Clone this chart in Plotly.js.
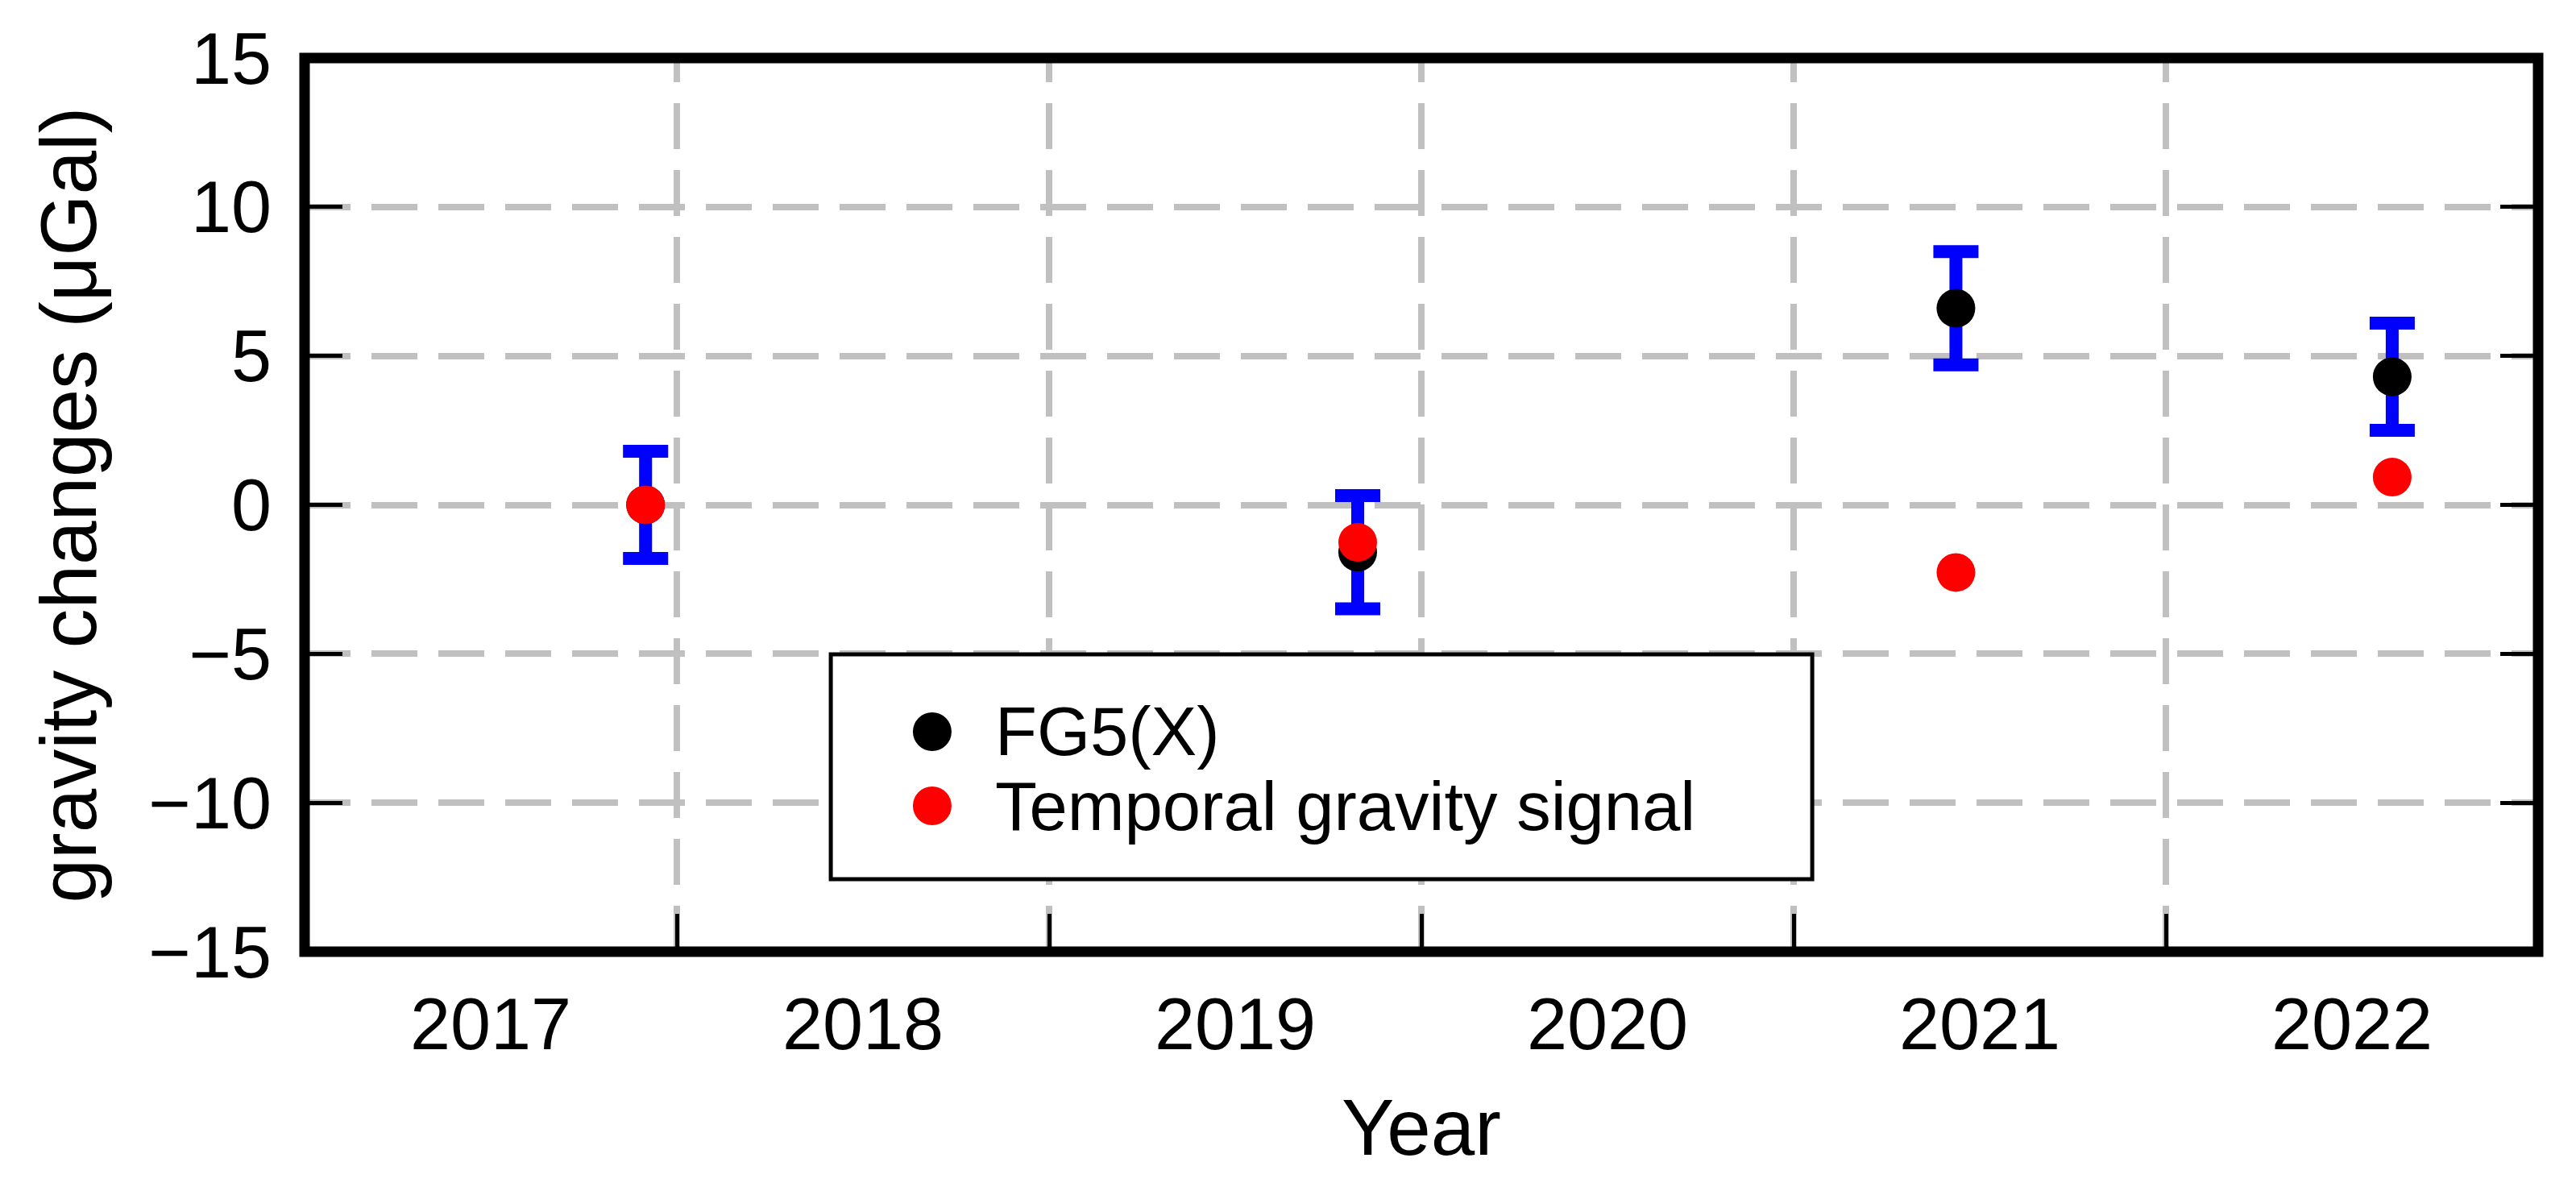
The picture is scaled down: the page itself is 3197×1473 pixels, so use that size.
<!DOCTYPE html>
<html>
<head>
<meta charset="utf-8">
<script src="https://cdn.plot.ly/plotly-3.0.1.min.js"></script>
<style>
  html, body { margin: 0; padding: 0; background: #fff; }
  #chart { width: 3197px; height: 1473px; }
  .xgrid { stroke-dashoffset: 27px; }
</style>
</head>
<body>
<div id="chart"></div>
<script>
// ---- data ----
const yearLabels = [2017, 2018, 2019, 2020, 2021, 2022];
const yearBoundaries = [2017.5, 2018.5, 2019.5, 2020.5, 2021.5];
const yTicks = [-15, -10, -5, 0, 5, 10, 15];

const epochX = [2017.416, 2019.329, 2020.936, 2022.108];
const fg5Values = [0.0, -1.59, 6.60, 4.30];
const fg5Errors = [1.8, 1.9, 1.9, 1.8];
const temporalValues = [0.0, -1.26, -2.27, 0.93];

const seriesNames = ['FG5(X)', 'Temporal gravity signal'];
const seriesColors = ['#000000', '#ff0000'];

const FONT = 'Liberation Sans, Arial, Helvetica, sans-serif';

const traces = [
  {
    type: 'scatter', mode: 'markers', name: seriesNames[0],
    x: epochX, y: fg5Values,
    marker: { color: seriesColors[0], size: 48, line: { width: 0 } },
    error_y: { type: 'data', array: fg5Errors, visible: true, color: '#0000ff', thickness: 16, width: 28 },
    showlegend: false
  },
  {
    type: 'scatter', mode: 'markers', name: seriesNames[1],
    x: epochX, y: temporalValues,
    marker: { color: seriesColors[1], size: 48, line: { width: 0 } },
    showlegend: false
  }
];

// custom legend (box, symbols, labels) in paper coordinates
const legendBox = { x0: 0.2356, x1: 0.675, y0: 0.0812, y1: 0.3327 };
const legendSymX = 0.2810;
const legendRowsY = [0.2462, 0.1632];
const legendTextX = 0.3085;

const shapes = [
  { type: 'rect', xref: 'paper', yref: 'paper', x0: legendBox.x0, x1: legendBox.x1, y0: legendBox.y0, y1: legendBox.y1,
    line: { color: '#000', width: 5 }, fillcolor: '#fff', layer: 'above' },
  { type: 'rect', xref: 'paper', yref: 'paper', x0: 0, x1: 1, y0: 0, y1: 1,
    line: { color: '#000', width: 13 }, fillcolor: 'rgba(0,0,0,0)', layer: 'above' }
];
const annotations = [];
seriesNames.forEach((nm, i) => {
  shapes.push({
    type: 'circle', xref: 'paper', yref: 'paper',
    xsizemode: 'pixel', ysizemode: 'pixel',
    xanchor: legendSymX, yanchor: legendRowsY[i],
    x0: -24, x1: 24, y0: -24, y1: 24,
    fillcolor: seriesColors[i], line: { width: 0 }, layer: 'above'
  });
  annotations.push({
    xref: 'paper', yref: 'paper', x: legendTextX, y: legendRowsY[i],
    xanchor: 'left', yanchor: 'middle', showarrow: false,
    text: nm, font: { family: FONT, size: 85, color: '#000' }
  });
});

const layout = {
  width: 3197, height: 1473,
  margin: { l: 378, r: 47, t: 72, b: 292 },
  paper_bgcolor: '#fff', plot_bgcolor: '#fff',
  showlegend: false,
  font: { family: FONT, color: '#000' },
  xaxis: {
    range: [2016.5, 2022.5],
    tickmode: 'array', tickvals: yearLabels, ticktext: yearLabels.map(String),
    ticks: '', showgrid: false, zeroline: false, showline: false,
    mirror: 'ticks',
    tickfont: { family: FONT, size: 90, color: '#000' },
    ticklabelstandoff: 30,
    minor: {
      tickmode: 'array', tickvals: yearBoundaries,
      ticks: 'inside', ticklen: 47, tickwidth: 5, tickcolor: '#000',
      showgrid: true, gridcolor: '#c0c0c0', gridwidth: 8, griddash: '57px,26px'
    },
    title: { text: 'Year', font: { family: FONT, size: 98, color: '#000' }, standoff: 44 },
    automargin: false
  },
  yaxis: {
    range: [-15, 15],
    tickmode: 'array', tickvals: yTicks,
    ticks: 'inside', ticklen: 47, tickwidth: 5, tickcolor: '#000',
    mirror: 'ticks',
    showgrid: true, gridcolor: '#c0c0c0', gridwidth: 8, griddash: '57px,26px',
    zeroline: false, showline: false,
    tickfont: { family: FONT, size: 90, color: '#000' },
    ticklabelstandoff: 40,
    title: { text: 'gravity changes (μGal)', font: { family: FONT, size: 98, color: '#000' }, standoff: 32 },
    automargin: false
  },
  shapes: shapes,
  annotations: annotations
};

Plotly.newPlot('chart', traces, layout, { staticPlot: true, displayModeBar: false });
</script>
</body>
</html>
